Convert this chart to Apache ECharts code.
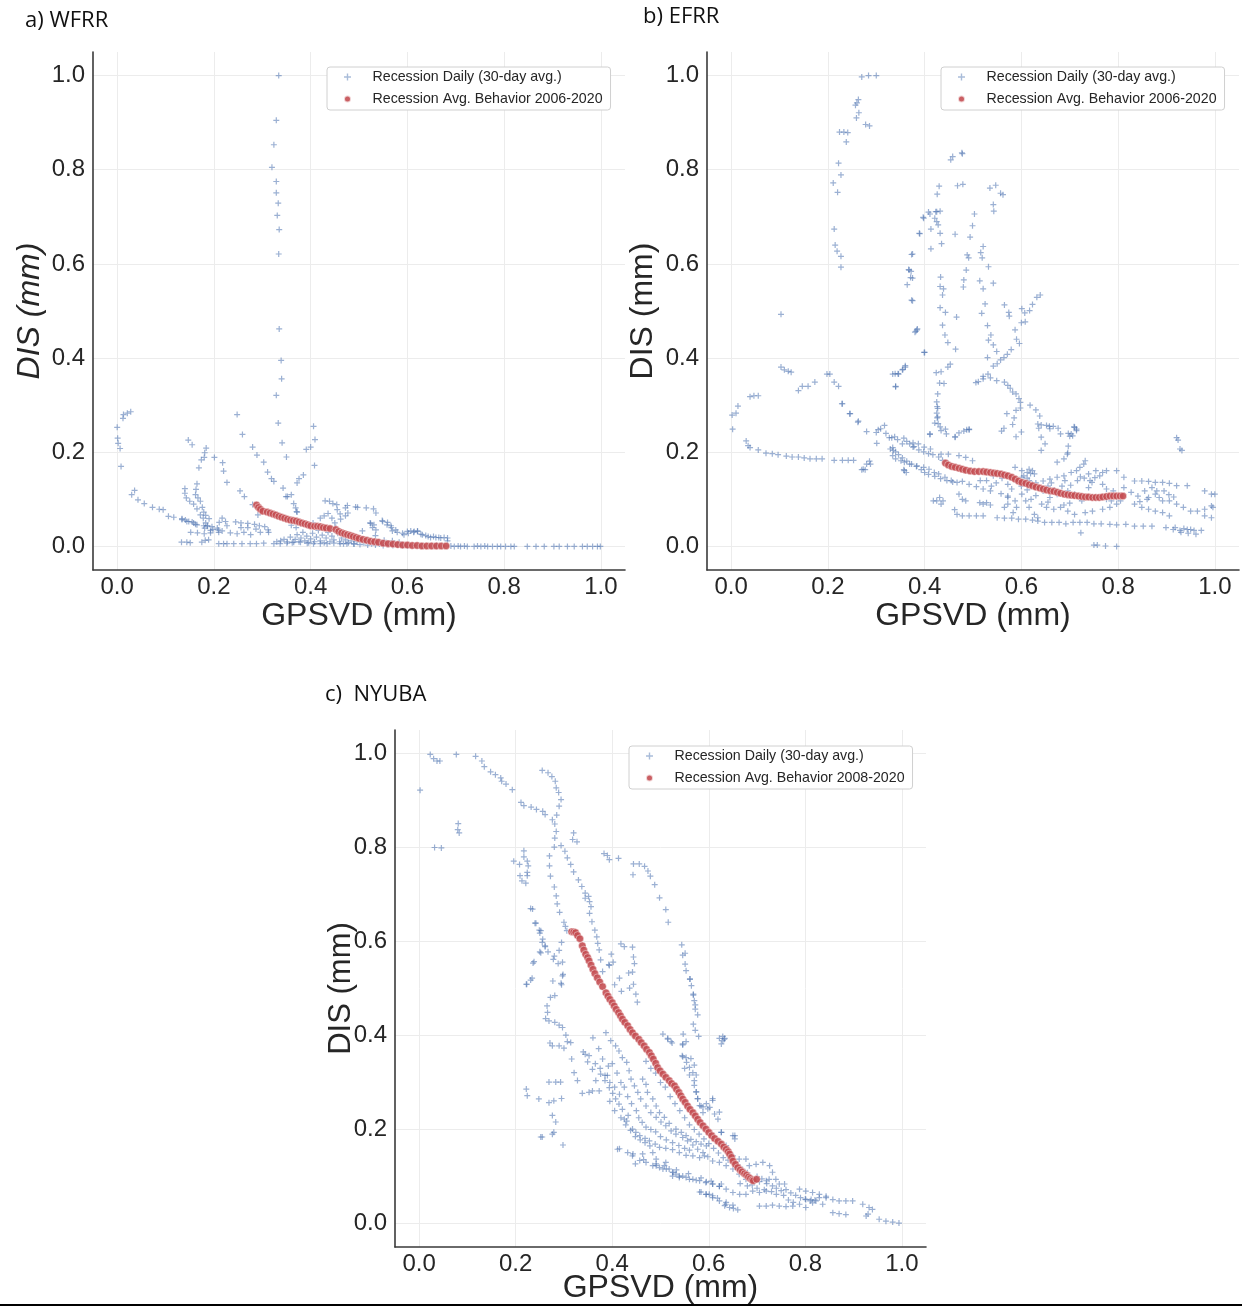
<!DOCTYPE html>
<html><head><meta charset="utf-8">
<script src="https://cdn.jsdelivr.net/npm/echarts@6/dist/echarts.min.js"></script>
<style>html,body{margin:0;padding:0;background:#fff}#c{width:1248px;height:1308px}</style>
</head><body><div id="c"></div>
<script>
var tickValues = [0, 0.2, 0.4, 0.6, 0.8, 1.0];
var panelTitles = ['a) WFRR', 'b) EFRR', 'c)  NYUBA'];
var dailyName = 'Recession Daily (30-day avg.)';
var avgNames = ['Recession Avg. Behavior 2006-2020', 'Recession Avg. Behavior 2006-2020', 'Recession Avg. Behavior 2008-2020'];

var wfrrDaily = [
[0.334,1.0],[0.329,0.905],[0.324,0.853],[0.320,0.805],[0.329,0.775],[0.329,0.751],[0.333,0.729],[0.331,0.703],[0.335,0.673],[0.334,0.621],[0.335,0.462],[0.339,0.395],[0.340,0.356],[0.329,0.321],[0.333,0.262],[0.341,0.220],[0.350,0.190],
[0.000,0.253],[0.001,0.230],[0.002,0.219],[0.006,0.208],[0.008,0.170],[0.012,0.272],[0.013,0.280],[0.021,0.283],[0.028,0.286],
[0.030,0.110],[0.036,0.119],[0.043,0.099],[0.056,0.091],[0.073,0.083],[0.087,0.079],[0.095,0.078],[0.106,0.064],[0.117,0.062],[0.134,0.057],[0.144,0.053],[0.158,0.050],[0.165,0.046],[0.181,0.039],[0.198,0.036],[0.209,0.035],[0.217,0.033],
[0.147,0.226],[0.155,0.216],[0.184,0.209],[0.181,0.199],[0.180,0.189],[0.174,0.184],[0.169,0.167],[0.165,0.133],[0.163,0.121],[0.162,0.110],[0.167,0.103],[0.172,0.096],[0.176,0.083],[0.179,0.073],[0.172,0.067],[0.178,0.060],[0.183,0.050],[0.187,0.044],
[0.140,0.123],[0.140,0.113],[0.143,0.103],[0.150,0.096],[0.158,0.090],[0.165,0.080],
[0.201,0.189],[0.218,0.178],[0.220,0.160],[0.227,0.136],[0.217,0.060],[0.224,0.053],
[0.248,0.280],[0.259,0.238],[0.280,0.211],[0.289,0.194],[0.303,0.179],[0.311,0.158],[0.319,0.144],[0.324,0.138],[0.343,0.124],[0.352,0.106],[0.365,0.091],[0.371,0.074],
[0.406,0.255],[0.409,0.227],[0.400,0.211],[0.391,0.206],[0.408,0.172],[0.385,0.152],[0.376,0.144],[0.372,0.135],[0.360,0.110],[0.349,0.106],[0.369,0.082],[0.372,0.073],
[0.254,0.118],[0.263,0.106],[0.280,0.089],[0.291,0.067],
[0.430,0.097],[0.439,0.096],[0.446,0.091],[0.454,0.089],[0.455,0.078],[0.461,0.069],[0.472,0.082],[0.477,0.071],[0.476,0.087],[0.493,0.084],[0.497,0.083],[0.515,0.082],[0.530,0.080],[0.535,0.071],[0.549,0.053],[0.558,0.046],[0.567,0.040],[0.576,0.035],
[0.593,0.025],[0.602,0.028],[0.613,0.030],[0.621,0.032],[0.631,0.025],[0.643,0.021],[0.654,0.021],[0.665,0.019],[0.676,0.019],[0.683,0.018],
[0.523,0.050],[0.528,0.040],[0.535,0.035],[0.472,0.065],[0.462,0.058],[0.524,0.049],[0.531,0.046],[0.548,0.055],[0.559,0.051],[0.566,0.044],[0.569,0.033],[0.579,0.030],[0.590,0.028],[0.600,0.032],[0.607,0.033],[0.614,0.032],[0.621,0.033],[0.628,0.026],[0.638,0.023],[0.648,0.019],[0.659,0.019],[0.669,0.018],[0.683,0.012],[0.507,0.033],[0.534,0.023],[0.552,0.013],[0.569,0.012],[0.583,0.009],
[0.134,0.059],[0.141,0.056],[0.148,0.053],[0.155,0.052],[0.162,0.047],[0.179,0.044],[0.186,0.043],[0.196,0.042],[0.211,0.051],[0.227,0.044],[0.245,0.052],[0.256,0.050],[0.270,0.049],[0.284,0.047],[0.294,0.044],[0.305,0.042],[0.312,0.035],[0.183,0.066],[0.190,0.059],[0.207,0.039],[0.193,0.034],[0.152,0.030],[0.166,0.029],[0.180,0.027],[0.193,0.029],[0.210,0.030],[0.234,0.029],[0.248,0.027],[0.262,0.030],[0.276,0.025],[0.296,0.030],[0.313,0.030],[0.256,0.040],[0.270,0.040],[0.287,0.037],
[0.133,0.009],[0.144,0.009],[0.151,0.008],[0.175,0.009],[0.182,0.013],[0.189,0.014],[0.210,0.006],[0.220,0.006],[0.227,0.006],[0.241,0.006],[0.258,0.006],[0.275,0.006],[0.288,0.006],[0.303,0.007],[0.324,0.006],[0.337,0.006],[0.351,0.007],[0.365,0.009],[0.379,0.009],[0.393,0.007],[0.406,0.006],[0.420,0.006],[0.434,0.006],[0.448,0.007],[0.461,0.006],[0.475,0.006],[0.489,0.006],
[0.330,0.010],[0.338,0.012],[0.345,0.015],[0.352,0.010],[0.358,0.020],[0.362,0.008],[0.368,0.015],[0.372,0.025],[0.376,0.010],[0.380,0.018],[0.384,0.030],[0.388,0.012],[0.392,0.022],[0.396,0.008],[0.400,0.016],[0.404,0.028],[0.408,0.010],[0.412,0.020],[0.416,0.034],[0.420,0.012],[0.424,0.024],[0.428,0.008],[0.432,0.018],[0.436,0.030],[0.440,0.010],[0.444,0.022],[0.448,0.014],[0.452,0.040],[0.456,0.028],[0.460,0.010],[0.464,0.018],[0.468,0.006],[0.472,0.014],[0.478,0.008],[0.484,0.012],[0.490,0.005],[0.496,0.010],[0.502,0.004],[0.510,0.008],[0.518,0.003],[0.526,0.006],[0.534,0.003],[0.542,0.005],[0.550,0.002],[0.560,0.004],[0.570,0.002],[0.580,0.003],[0.590,0.002],[0.600,0.001],[0.615,0.002],[0.630,0.001],[0.645,0.001],[0.660,0.002],[0.675,0.001],[0.690,0.001],
[0.360,0.045],[0.370,0.040],[0.380,0.048],[0.395,0.044],[0.405,0.050],[0.420,0.060],[0.428,0.065],[0.436,0.070],[0.444,0.060],[0.450,0.050],
[0.697,0.0],[0.705,0.001],[0.710,0.0],[0.718,0.001],[0.724,0.0],[0.738,0.0],[0.745,0.001],[0.752,0.0],[0.760,0.001],[0.766,0.0],[0.776,0.0],[0.786,0.0],[0.793,0.0],[0.803,0.0],[0.814,0.0],[0.821,0.0],[0.848,0.0],[0.866,0.0],[0.883,0.0],[0.903,0.0],[0.914,0.0],[0.931,0.0],[0.945,0.0],[0.962,0.0],[0.972,0.0],[0.983,0.0],[0.993,0.0],[0.999,0.0]
];
var wfrrAvg = [
[0.288,0.088],[0.292,0.083],[0.296,0.079],[0.301,0.075],[0.310,0.073],[0.316,0.071],[0.322,0.069],[0.328,0.067],[0.334,0.064],[0.340,0.062],[0.346,0.060],[0.352,0.058],[0.358,0.056],[0.364,0.055],[0.370,0.054],[0.376,0.052],[0.382,0.050],[0.388,0.048],[0.394,0.046],[0.400,0.044],[0.408,0.043],[0.414,0.043],[0.420,0.042],[0.426,0.040],[0.432,0.039],[0.440,0.038],[0.452,0.036],[0.458,0.032],[0.464,0.029],[0.470,0.027],[0.476,0.025],[0.482,0.023],[0.488,0.021],[0.494,0.019],[0.500,0.017],[0.508,0.015],[0.516,0.013],[0.524,0.011],[0.532,0.010],[0.540,0.009],[0.550,0.007],[0.560,0.006],[0.570,0.005],[0.580,0.004],[0.590,0.003],[0.600,0.003],[0.610,0.002],[0.620,0.002],[0.630,0.001],[0.640,0.001],[0.650,0.001],[0.660,0.001],[0.670,0.001],[0.680,0.001]
];

var efrrDaily = [
[0.270,0.997],[0.284,1.0],[0.300,1.0],[0.260,0.942],[0.263,0.949],[0.257,0.937],[0.264,0.921],[0.259,0.910],[0.278,0.896],[0.286,0.893],[0.224,0.880],[0.233,0.880],[0.241,0.879],[0.238,0.859],[0.222,0.814],[0.227,0.789],[0.211,0.772],[0.220,0.752],[0.213,0.674],[0.215,0.640],[0.219,0.627],[0.227,0.616],[0.227,0.593],
[0.454,0.821],[0.458,0.828],[0.477,0.836],[0.478,0.834],[0.103,0.493],
[0.430,0.765],[0.426,0.748],[0.468,0.766],[0.479,0.769],[0.535,0.761],[0.547,0.767],[0.542,0.726],[0.543,0.712],[0.557,0.750],[0.562,0.747],[0.397,0.699],[0.411,0.706],[0.425,0.711],[0.432,0.712],[0.421,0.697],[0.425,0.690],[0.428,0.683],[0.413,0.674],[0.432,0.665],[0.389,0.665],[0.463,0.663],[0.435,0.643],[0.413,0.632],[0.373,0.620],[0.503,0.706],[0.499,0.681],[0.494,0.657],[0.488,0.619],[0.491,0.613],[0.486,0.587],[0.481,0.566],[0.480,0.551],[0.516,0.624],[0.521,0.637],[0.519,0.613],[0.532,0.594],[0.514,0.564],[0.542,0.559],[0.521,0.547],[0.525,0.515],[0.518,0.495],[0.530,0.469],[0.537,0.449],[0.532,0.438],[0.542,0.428],[0.549,0.414],[0.565,0.513],[0.574,0.497],[0.575,0.489],[0.587,0.460],[0.590,0.440],[0.596,0.431],[0.600,0.475],[0.608,0.477],[0.601,0.505],[0.607,0.496],[0.617,0.501],[0.623,0.514],[0.632,0.529],[0.639,0.534],[0.433,0.572],[0.432,0.552],[0.439,0.547],[0.437,0.534],[0.432,0.507],[0.443,0.497],[0.437,0.470],[0.442,0.449],[0.448,0.433],[0.399,0.412],[0.466,0.487],[0.464,0.419],[0.384,0.460],[0.380,0.455],[0.375,0.522],[0.371,0.571],[0.372,0.584],[0.364,0.556],[0.368,0.587],
[0.339,0.367],[0.345,0.367],[0.355,0.376],[0.360,0.384],[0.340,0.339],[0.424,0.369],[0.434,0.371],[0.448,0.381],[0.453,0.387],[0.440,0.346],[0.431,0.347],[0.427,0.324],[0.425,0.307],[0.426,0.297],[0.425,0.283],[0.426,0.273],[0.428,0.261],[0.432,0.254],[0.443,0.249],[0.411,0.238],[0.463,0.233],[0.487,0.248],[0.492,0.249],
[0.506,0.348],[0.511,0.350],[0.521,0.356],[0.521,0.361],[0.531,0.366],[0.542,0.383],[0.550,0.388],[0.557,0.396],[0.564,0.401],[0.571,0.408],[0.579,0.418],[0.530,0.401],[0.536,0.358],[0.549,0.352],[0.565,0.349],[0.572,0.342],[0.577,0.336],[0.582,0.328],[0.589,0.324],[0.595,0.314],[0.598,0.306],[0.598,0.294],[0.589,0.289],[0.585,0.273],[0.582,0.259],[0.570,0.282],[0.564,0.251],[0.559,0.245],[0.589,0.233],[0.600,0.243],[0.618,0.300],[0.630,0.290],[0.638,0.277],[0.641,0.258],[0.636,0.251],[0.658,0.255],[0.666,0.255],[0.676,0.251],[0.697,0.240],[0.709,0.254],[0.714,0.249],[0.700,0.234],[0.697,0.213],[0.696,0.199],
[0.002,0.279],[0.003,0.249],[0.010,0.283],[0.014,0.298],[0.031,0.224],[0.035,0.214],[0.039,0.210],[0.056,0.205],[0.072,0.198],[0.085,0.197],[0.097,0.195],[0.114,0.192],[0.126,0.190],[0.139,0.190],[0.151,0.188],[0.163,0.186],[0.176,0.186],[0.188,0.186],[0.213,0.183],[0.230,0.183],[0.242,0.183],[0.253,0.183],
[0.039,0.318],[0.047,0.320],[0.056,0.320],
[0.103,0.381],[0.110,0.375],[0.118,0.372],[0.124,0.370],[0.139,0.331],[0.147,0.340],[0.159,0.340],[0.173,0.349],[0.198,0.366],[0.204,0.366],[0.213,0.349],[0.222,0.340],[0.230,0.303],[0.246,0.282],[0.263,0.266],[0.280,0.244],[0.300,0.242],[0.309,0.250],[0.317,0.257],[0.320,0.240],[0.327,0.231],
[0.270,0.163],[0.277,0.163],[0.288,0.175],[0.286,0.181],
[0.340,0.340],[0.334,0.366],[0.346,0.366],[0.354,0.375],[0.360,0.381],
[0.382,0.457],[0.385,0.462],[0.400,0.412],[0.373,0.523],[0.375,0.570],[0.367,0.588],[0.375,0.621],[0.390,0.664],[0.398,0.697],[0.408,0.710],[0.423,0.711],
[0.332,0.231],[0.344,0.227],[0.354,0.218],[0.363,0.223],[0.369,0.218],[0.378,0.212],[0.388,0.205],[0.398,0.201],[0.408,0.197],[0.417,0.195],[0.429,0.190],[0.437,0.183],[0.448,0.177],[0.334,0.210],[0.340,0.201],[0.346,0.195],[0.354,0.188],[0.363,0.181],[0.373,0.175],[0.383,0.170],[0.393,0.163],[0.400,0.157],[0.408,0.153],[0.421,0.149],[0.433,0.144],[0.446,0.140],[0.458,0.137],[0.357,0.163],[0.362,0.157],
[0.229,0.303],[0.245,0.282],[0.262,0.264],[0.304,0.248],[0.301,0.219],[0.338,0.233],[0.357,0.230],[0.376,0.220],[0.387,0.218],[0.399,0.211],[0.412,0.207],[0.329,0.207],[0.335,0.204],[0.334,0.193],[0.340,0.186],[0.351,0.182],[0.358,0.179],[0.369,0.175],[0.384,0.171],[0.398,0.168],[0.409,0.164],[0.420,0.157],[0.429,0.154],[0.442,0.147],[0.455,0.140],[0.467,0.136],[0.478,0.138],[0.492,0.132],[0.507,0.127],[0.521,0.122],[0.536,0.118],[0.558,0.112],[0.572,0.107],
[0.273,0.164],[0.280,0.175],[0.358,0.161],[0.376,0.211],
[0.411,0.239],[0.421,0.262],[0.427,0.275],[0.427,0.293],[0.434,0.246],[0.445,0.239],[0.471,0.241],[0.481,0.245],[0.492,0.248],[0.463,0.232],
[0.434,0.196],[0.449,0.196],[0.471,0.193],[0.485,0.189],[0.499,0.182],
[0.418,0.097],[0.425,0.097],[0.431,0.104],[0.434,0.090],[0.438,0.097],[0.471,0.111],[0.478,0.100],[0.485,0.097],[0.514,0.093],[0.521,0.090],[0.528,0.093],[0.536,0.088],[0.462,0.078],[0.467,0.068],[0.478,0.065],[0.492,0.065],[0.507,0.065],[0.521,0.065],[0.550,0.061],[0.565,0.060],[0.580,0.060],[0.594,0.058],[0.609,0.058],[0.623,0.056],[0.634,0.054],[0.648,0.051],[0.663,0.051],[0.678,0.051],[0.692,0.048],[0.707,0.051],[0.721,0.051],[0.736,0.051],[0.750,0.048],[0.765,0.048],[0.783,0.047],[0.797,0.046],[0.816,0.047],[0.834,0.043],[0.852,0.043],[0.870,0.043],[0.899,0.040],[0.914,0.036],[0.928,0.034],[0.943,0.036],[0.957,0.034],[0.972,0.034],[0.961,0.026],
[0.723,0.029],[0.750,0.003],[0.757,0.003],[0.774,0.001],[0.797,0.0],
[0.587,0.168],[0.601,0.161],[0.612,0.157],[0.619,0.155],[0.623,0.132],[0.630,0.135],[0.645,0.139],[0.659,0.143],[0.674,0.147],[0.688,0.150],[0.703,0.157],[0.714,0.161],[0.721,0.168],[0.729,0.175],[0.732,0.182],[0.739,0.154],[0.754,0.161],[0.768,0.157],[0.776,0.161],[0.797,0.161],[0.812,0.147],[0.834,0.139],[0.849,0.139],[0.863,0.138],[0.877,0.136],[0.892,0.136],[0.906,0.134],[0.921,0.129],[0.943,0.129],[0.979,0.118],[0.993,0.111],[1.0,0.111],
[0.601,0.111],[0.609,0.097],[0.616,0.083],[0.627,0.068],[0.634,0.061],[0.587,0.097],[0.590,0.083],[0.583,0.072],[0.572,0.090],[0.652,0.083],[0.667,0.079],[0.681,0.083],[0.696,0.075],[0.710,0.068],[0.732,0.072],[0.747,0.075],[0.768,0.079],[0.783,0.083],[0.797,0.090],[0.805,0.097],[0.797,0.104],[0.790,0.118],[0.812,0.125],[0.827,0.115],[0.841,0.107],[0.863,0.104],[0.877,0.111],[0.885,0.104],[0.892,0.097],[0.906,0.097],[0.921,0.090],[0.935,0.083],[0.950,0.075],[0.964,0.075],[0.979,0.079],[0.993,0.086],[0.996,0.083],
[0.834,0.090],[0.849,0.083],[0.863,0.079],[0.877,0.075],[0.892,0.072],[0.906,0.065],[0.979,0.065],[0.993,0.061],[0.921,0.231],[0.924,0.226],[0.928,0.207],[0.932,0.204],
[0.674,0.179],[0.688,0.186],[0.695,0.196],[0.703,0.239],[0.710,0.253],[0.714,0.246],[0.706,0.235],[0.681,0.239],[0.659,0.250],[0.652,0.257],[0.641,0.204],[0.649,0.218],[0.641,0.232],[0.634,0.260],
[0.616,0.164],[0.623,0.161],[0.627,0.154],[0.601,0.147],[0.616,0.140],[0.572,0.132],[0.580,0.122],[0.572,0.104],[0.565,0.083],[0.696,0.118],[0.710,0.111],[0.721,0.104],[0.725,0.097],[0.739,0.125],[0.746,0.136],[0.768,0.132],[0.776,0.122],[0.674,0.111],[0.659,0.104],[0.645,0.118],[0.630,0.108],[0.754,0.104],[0.776,0.100],[0.786,0.097],
[0.605,0.150],[0.612,0.145],[0.620,0.128],[0.636,0.125],[0.655,0.128],[0.662,0.135],[0.668,0.120],[0.684,0.128],[0.690,0.140],[0.702,0.130],[0.716,0.140],[0.722,0.148],[0.730,0.145],[0.742,0.140],[0.752,0.146],[0.762,0.150],[0.700,0.092],[0.688,0.088],[0.655,0.094],[0.642,0.090],[0.620,0.100],[0.548,0.135],[0.538,0.128],[0.528,0.140],[0.515,0.140],[0.560,0.145],[0.542,0.150],[0.600,0.128],[0.612,0.120],[0.870,0.125],[0.880,0.118],[0.895,0.118],[0.905,0.110],[0.915,0.105],[0.855,0.118],[0.860,0.100],[0.845,0.095],[0.918,0.040],[0.936,0.038],[0.950,0.036],[0.930,0.030],[0.945,0.028]
];
var efrrAvg = [
[0.443,0.177],[0.449,0.173],[0.456,0.170],[0.463,0.168],[0.471,0.166],[0.478,0.164],[0.485,0.162],[0.494,0.160],[0.503,0.159],[0.512,0.159],[0.521,0.159],[0.528,0.158],[0.536,0.157],[0.543,0.156],[0.550,0.155],[0.558,0.154],[0.565,0.152],[0.572,0.150],[0.580,0.147],[0.587,0.143],[0.594,0.139],[0.601,0.136],[0.609,0.134],[0.616,0.131],[0.623,0.129],[0.630,0.126],[0.638,0.124],[0.645,0.122],[0.652,0.120],[0.660,0.118],[0.667,0.117],[0.674,0.115],[0.681,0.113],[0.689,0.111],[0.696,0.110],[0.703,0.109],[0.710,0.108],[0.718,0.107],[0.725,0.106],[0.732,0.105],[0.739,0.105],[0.747,0.104],[0.754,0.104],[0.761,0.104],[0.768,0.105],[0.776,0.106],[0.783,0.107],[0.790,0.107],[0.797,0.107],[0.804,0.107],[0.810,0.107]
];

var nyubaDaily = [
[0.002,0.922],[0.023,0.998],[0.030,0.989],[0.037,0.984],[0.043,0.984],[0.077,0.998],[0.117,0.994],[0.130,0.984],[0.135,0.972],[0.148,0.961],[0.158,0.955],[0.169,0.948],[0.171,0.941],[0.180,0.935],[0.193,0.923],[0.081,0.851],[0.080,0.838],[0.083,0.831],[0.032,0.800],[0.046,0.799],[0.211,0.896],[0.217,0.889],[0.232,0.886],[0.243,0.881],[0.256,0.877],[0.261,0.870],[0.255,0.964],[0.267,0.959],[0.275,0.951],[0.282,0.941],[0.284,0.927],[0.289,0.917],[0.294,0.902],[0.290,0.888],[0.285,0.869],[0.276,0.859],[0.281,0.850],[0.284,0.834],[0.281,0.820],[0.280,0.801],[0.294,0.804],[0.302,0.792],[0.307,0.778],[0.314,0.764],[0.320,0.748],[0.330,0.731],[0.337,0.717],[0.344,0.703],[0.344,0.692],[0.351,0.696],[0.353,0.685],[0.356,0.674],[0.353,0.660],[0.358,0.642],[0.364,0.624],[0.368,0.610],[0.370,0.596],[0.373,0.582],[0.376,0.561],[0.394,0.549],[0.402,0.556],[0.320,0.831],[0.318,0.817],[0.327,0.812],[0.270,0.782],[0.270,0.761],[0.272,0.739],[0.280,0.716],[0.284,0.697],[0.286,0.680],[0.291,0.662],[0.300,0.641],[0.303,0.632],[0.306,0.623],[0.295,0.598],[0.290,0.581],[0.297,0.556],[0.298,0.530],[0.294,0.511],[0.281,0.485],[0.277,0.516],[0.280,0.569],[0.261,0.589],[0.256,0.605],[0.250,0.618],[0.249,0.624],[0.242,0.639],[0.235,0.669],[0.217,0.793],[0.217,0.780],[0.224,0.771],[0.226,0.761],[0.224,0.747],[0.224,0.740],[0.209,0.740],[0.213,0.729],[0.221,0.724],[0.196,0.771],[0.208,0.764],[0.238,0.557],[0.234,0.522],[0.223,0.509],[0.252,0.576],
[0.383,0.787],[0.390,0.783],[0.394,0.774],[0.413,0.777],[0.444,0.765],[0.456,0.765],[0.467,0.760],[0.474,0.750],[0.479,0.739],[0.488,0.721],[0.498,0.693],[0.511,0.668],[0.516,0.641],[0.443,0.742],[0.544,0.593],[0.551,0.575],[0.561,0.520],[0.568,0.486],[0.572,0.465],[0.577,0.444],
[0.418,0.595],[0.425,0.589],[0.442,0.588],[0.444,0.567],[0.446,0.553],[0.442,0.535],[0.444,0.509],[0.449,0.488],[0.452,0.471],[0.398,0.573],[0.393,0.551],[0.380,0.536],[0.415,0.522],[0.405,0.508],[0.419,0.494],[0.436,0.501],[0.434,0.533],
[0.231,0.670],[0.240,0.639],[0.252,0.623],[0.255,0.598],[0.250,0.578],[0.236,0.554],[0.231,0.518],[0.222,0.509],[0.261,0.591],[0.267,0.578],[0.278,0.562],[0.288,0.553],[0.297,0.527],[0.295,0.508],[0.272,0.481],[0.265,0.463],[0.266,0.449],[0.262,0.436],[0.269,0.431],[0.281,0.428],[0.290,0.422],[0.297,0.417],[0.304,0.401],[0.307,0.387],[0.271,0.384],[0.276,0.378],[0.290,0.378],[0.300,0.373],[0.314,0.385],[0.316,0.350],[0.321,0.321],[0.328,0.304],[0.338,0.277],[0.352,0.279],[0.359,0.282],[0.340,0.365],[0.344,0.360],[0.352,0.357],[0.349,0.344],[0.359,0.328],[0.366,0.304],[0.373,0.282],[0.376,0.318],[0.385,0.304],[0.390,0.315],[0.394,0.289],[0.401,0.277],[0.407,0.265],[0.414,0.254],[0.421,0.243],[0.425,0.222],[0.430,0.218],[0.433,0.230],[0.442,0.201],[0.449,0.194],[0.457,0.187],[0.468,0.181],[0.477,0.176],[0.489,0.169],[0.498,0.162],[0.511,0.160],[0.525,0.157],[0.539,0.151],[0.553,0.145],[0.567,0.144],[0.581,0.140],[0.591,0.144],
[0.387,0.406],[0.397,0.389],[0.407,0.378],[0.414,0.367],[0.421,0.353],[0.430,0.343],[0.435,0.325],[0.439,0.307],[0.446,0.293],[0.453,0.279],[0.459,0.265],[0.470,0.250],[0.480,0.236],[0.491,0.226],[0.501,0.216],[0.511,0.208],[0.522,0.197],[0.532,0.190],[0.546,0.183],[0.556,0.176],[0.567,0.167],[0.577,0.158],[0.588,0.151],[0.598,0.142],[0.608,0.133],[0.622,0.130],[0.636,0.123],[0.650,0.116],
[0.463,0.307],[0.470,0.296],[0.473,0.279],[0.484,0.265],[0.491,0.250],[0.498,0.236],[0.508,0.226],[0.518,0.213],[0.532,0.201],[0.543,0.194],[0.553,0.187],[0.563,0.179],[0.574,0.174],[0.584,0.169],[0.595,0.165],
[0.546,0.571],[0.551,0.552],[0.553,0.538],[0.561,0.520],[0.564,0.506],[0.568,0.488],[0.570,0.474],[0.572,0.456],[0.568,0.424],[0.572,0.411],[0.579,0.398],[0.547,0.403],[0.546,0.382],[0.545,0.357],[0.553,0.353],[0.554,0.343],[0.560,0.332],[0.567,0.321],[0.570,0.304],[0.574,0.280],[0.577,0.265],[0.584,0.250],[0.588,0.236],[0.595,0.255],[0.602,0.247],[0.608,0.262],[0.612,0.233],[0.619,0.222],[0.626,0.194],[0.654,0.187],[0.629,0.389],[0.626,0.382],[0.633,0.394],[0.505,0.403],[0.515,0.392],[0.524,0.384],
[0.411,0.158],[0.432,0.151],[0.442,0.144],[0.470,0.130],[0.491,0.123],[0.505,0.116],[0.525,0.109],[0.546,0.101],[0.560,0.094],[0.574,0.092],[0.595,0.089],[0.608,0.084],[0.622,0.079],[0.636,0.073],[0.650,0.066],[0.664,0.062],
[0.518,0.116],[0.532,0.105],[0.511,0.130],[0.491,0.137],[0.484,0.151],[0.463,0.148],[0.525,0.101],[0.539,0.098],[0.581,0.067],[0.595,0.062],[0.608,0.055],[0.622,0.048],[0.636,0.045],[0.650,0.039],[0.660,0.029],[0.643,0.034],[0.633,0.038],
[0.222,0.286],[0.224,0.272],[0.269,0.301],[0.283,0.301],[0.293,0.301],[0.248,0.265],[0.269,0.257],[0.279,0.261],[0.295,0.266],[0.276,0.230],[0.283,0.216],[0.279,0.194],[0.276,0.190],[0.252,0.184],[0.255,0.184],[0.298,0.167],
[0.415,0.159],[0.443,0.148],[0.457,0.134],[0.484,0.123],[0.498,0.119],[0.512,0.116],[0.526,0.109],[0.539,0.101],[0.553,0.098],[0.567,0.094],[0.581,0.091],[0.594,0.087],[0.608,0.084],[0.622,0.079],[0.677,0.062],[0.691,0.069],[0.705,0.066],[0.719,0.069],[0.732,0.080],[0.746,0.084],[0.757,0.084],[0.594,0.062],[0.608,0.059],[0.705,0.037],[0.719,0.037],[0.732,0.039],[0.746,0.037],[0.760,0.036],[0.774,0.037],[0.788,0.041],[0.801,0.051],[0.812,0.051],[0.822,0.048],[0.836,0.041],[0.788,0.073],[0.801,0.069],[0.815,0.066],[0.829,0.062],[0.843,0.055],[0.857,0.051],[0.870,0.048],[0.884,0.048],[0.898,0.048],[0.919,0.041],[0.932,0.034],[0.939,0.030],[0.926,0.016],[0.930,0.020],[0.953,0.009],[0.967,0.005],[0.981,0.003],[0.994,0.001],[0.857,0.023],[0.870,0.021],[0.884,0.019],[0.801,0.034],[0.815,0.044],[0.829,0.055],[0.843,0.058],
[0.684,0.123],[0.698,0.126],[0.712,0.130],[0.726,0.123],[0.732,0.109],[0.739,0.094],[0.725,0.094],[0.719,0.091],[0.705,0.089],[0.691,0.091],[0.677,0.094],[0.663,0.105],[0.650,0.144],[0.663,0.137],[0.677,0.137],[0.622,0.173],[0.636,0.166],[0.650,0.187],[0.654,0.180],
[0.546,0.380],[0.553,0.387],[0.563,0.351],[0.570,0.337],[0.560,0.316],[0.574,0.316],[0.570,0.294],[0.574,0.280],[0.577,0.266],[0.581,0.251],[0.588,0.248],[0.598,0.244],[0.608,0.266],[0.622,0.237],[0.626,0.194],[0.622,0.394],[0.629,0.398],[0.632,0.392],
[0.515,0.394],[0.522,0.387],[0.546,0.355],[0.550,0.330],
[0.448,0.127],[0.465,0.136],[0.491,0.127],[0.508,0.123],[0.533,0.114],[0.558,0.106],[0.584,0.097],[0.605,0.090],[0.626,0.084],[0.584,0.067],[0.601,0.062],[0.618,0.054],[0.635,0.041],[0.651,0.032],
[0.360,0.395],[0.372,0.372],[0.380,0.350],[0.392,0.335],[0.400,0.340],[0.410,0.320],[0.418,0.300],[0.425,0.290],[0.432,0.270],[0.440,0.255],[0.450,0.240],[0.455,0.225],[0.462,0.215],[0.470,0.205],[0.480,0.200],[0.490,0.195],[0.500,0.185],[0.512,0.178],[0.525,0.172],[0.538,0.166],[0.550,0.160],[0.560,0.156],[0.395,0.260],[0.405,0.240],[0.418,0.225],[0.428,0.210],[0.438,0.198],[0.448,0.185],[0.458,0.178],[0.468,0.172],[0.478,0.165],[0.365,0.340],[0.375,0.330],[0.385,0.315],[0.395,0.300],[0.405,0.290],[0.415,0.275],[0.470,0.345],[0.480,0.330],[0.490,0.320],[0.500,0.300],[0.510,0.290],[0.520,0.270],[0.530,0.255],[0.540,0.240],[0.550,0.225],[0.560,0.210],[0.570,0.200],[0.580,0.190],[0.590,0.180],[0.600,0.170],[0.610,0.160],[0.620,0.150],[0.630,0.140],[0.640,0.135],[0.660,0.125],[0.670,0.115],[0.680,0.108],[0.700,0.100],[0.710,0.095],[0.720,0.085],[0.740,0.075],[0.750,0.070],[0.760,0.072],[0.770,0.065],[0.780,0.060],[0.790,0.055],[0.800,0.052],[0.810,0.048],[0.820,0.050],[0.700,0.075],[0.715,0.072],[0.730,0.068],[0.740,0.062],[0.755,0.060],[0.765,0.050],[0.775,0.045],[0.680,0.080],[0.690,0.082],[0.665,0.085]
];
var nyubaAvg = [
[0.316,0.621],[0.320,0.620],[0.324,0.619],[0.328,0.613],[0.333,0.606],[0.338,0.591],[0.341,0.582],[0.345,0.573],[0.349,0.566],[0.352,0.559],[0.356,0.550],[0.360,0.541],[0.364,0.532],[0.369,0.523],[0.374,0.514],[0.380,0.504],[0.387,0.491],[0.391,0.484],[0.395,0.477],[0.400,0.470],[0.404,0.463],[0.408,0.456],[0.413,0.449],[0.417,0.442],[0.421,0.435],[0.426,0.428],[0.432,0.421],[0.437,0.413],[0.442,0.406],[0.448,0.399],[0.455,0.392],[0.460,0.385],[0.466,0.378],[0.471,0.371],[0.477,0.364],[0.481,0.357],[0.485,0.350],[0.490,0.341],[0.494,0.332],[0.499,0.325],[0.505,0.318],[0.511,0.311],[0.518,0.304],[0.523,0.298],[0.529,0.293],[0.533,0.286],[0.538,0.279],[0.542,0.272],[0.546,0.265],[0.551,0.258],[0.556,0.250],[0.561,0.243],[0.567,0.236],[0.572,0.229],[0.577,0.222],[0.582,0.215],[0.588,0.208],[0.594,0.201],[0.600,0.194],[0.606,0.187],[0.612,0.181],[0.619,0.175],[0.626,0.169],[0.631,0.163],[0.636,0.158],[0.640,0.153],[0.643,0.148],[0.647,0.141],[0.650,0.133],[0.655,0.126],[0.660,0.119],[0.665,0.114],[0.669,0.110],[0.674,0.106],[0.678,0.103],[0.682,0.099],[0.686,0.096],[0.690,0.093],[0.692,0.091],[0.699,0.094]
];

var dailySets = [wfrrDaily, efrrDaily, nyubaDaily];
var avgSets = [wfrrAvg, efrrAvg, nyubaAvg];

var PLUS = 'path://M2,0H3V2H5V3H3V5H2V3H0V2H2Z';
var BLUE = 'rgba(76,114,176,0.7)';
var RED = '#c44e52';
var FONT = '"Liberation Sans", Arial, sans-serif';

var grids = [
  {left: 93, top: 52, width: 532, height: 518},
  {left: 707, top: 52, width: 532, height: 518},
  {left: 395, top: 730, width: 531, height: 517}
];
var yNameGap = [47, 48, 38];
var xNameGap = [30, 30, 25];
var yNameStyle = [
  {fontStyle: 'italic', fontSize: 32},
  {fontStyle: 'normal', fontSize: 32},
  {fontStyle: 'normal', fontSize: 31}
];
var legendPos = [{left: 327, top: 67}, {left: 941, top: 67}, {left: 629, top: 746}];
var titlePos = [{left: 25, top: 10}, {left: 643, top: 6}, {left: 325, top: 684}];

function fmt(v){ return v.toFixed(1); }

var xAxes = [], yAxes = [], series = [], legends = [], titles = [];
for (var i = 0; i < 3; i++) {
  var common = {
    gridIndex: i, type: 'value', min: -0.05, max: 1.05,
    axisLine: {show: true, onZero: false, lineStyle: {color: '#3a3a3a', width: 1.6}},
    axisTick: {show: false, customValues: tickValues},
    splitLine: {show: true, lineStyle: {color: '#ececec', width: 1}},
    nameLocation: 'middle', nameMoveOverlap: false
  };
  xAxes.push(Object.assign({}, common, {
    name: 'GPSVD (mm)', nameGap: xNameGap[i],
    nameTextStyle: {fontSize: 32, color: '#262626', fontFamily: FONT},
    axisLabel: {customValues: tickValues, formatter: fmt, fontSize: 24, color: '#262626', fontFamily: FONT, margin: 5}
  }));
  yAxes.push(Object.assign({}, common, {
    name: 'DIS (mm)', nameGap: yNameGap[i],
    nameTextStyle: Object.assign({color: '#262626', fontFamily: FONT}, yNameStyle[i]),
    axisLabel: {customValues: tickValues, formatter: fmt, fontSize: 24, color: '#262626', fontFamily: FONT, margin: 8}
  }));
  series.push({
    type: 'scatter', name: dailyName, xAxisIndex: i, yAxisIndex: i,
    data: dailySets[i], symbol: PLUS, symbolSize: 6,
    itemStyle: {color: BLUE}, silent: true, animation: false, z: 2
  });
  series.push({
    type: 'scatter', name: avgNames[i], xAxisIndex: i, yAxisIndex: i,
    data: avgSets[i], symbol: 'circle', symbolSize: 7.5,
    itemStyle: {color: RED, opacity: 0.9, borderColor: 'rgba(255,255,255,0.8)', borderWidth: 0.6},
    silent: true, animation: false, z: 3
  });
  legends.push({
    left: legendPos[i].left, top: legendPos[i].top, orient: 'vertical',
    backgroundColor: '#fff', borderColor: '#d0d0d0', borderWidth: 1, borderRadius: 3,
    padding: [3, 8, 4, 16], itemGap: 8, itemWidth: 40, itemHeight: 7,
    selectedMode: false,
    textStyle: {fontSize: 14.2, color: '#262626', fontFamily: FONT},
    data: [
      {name: dailyName, icon: PLUS, itemStyle: {color: 'rgba(76,114,176,0.6)'}},
      {name: avgNames[i], icon: 'circle', itemStyle: {color: RED}}
    ]
  });
  titles.push({
    text: panelTitles[i], left: titlePos[i].left, top: titlePos[i].top, padding: 0,
    textStyle: {fontSize: 22, fontWeight: 'normal', color: '#111', fontFamily: '"Open Sans", "Noto Sans", sans-serif'}
  });
}

var chart = echarts.init(document.getElementById('c'), null, {renderer: 'canvas'});
chart.setOption({
  backgroundColor: '#ffffff',
  animation: false,
  title: titles,
  grid: grids,
  xAxis: xAxes,
  yAxis: yAxes,
  legend: legends,
  series: series,
  graphic: [{
    type: 'line', shape: {x1: 0, y1: 1305, x2: 1242, y2: 1305},
    style: {stroke: '#000', lineWidth: 2}, silent: true
  }]
});
</script></body></html>
